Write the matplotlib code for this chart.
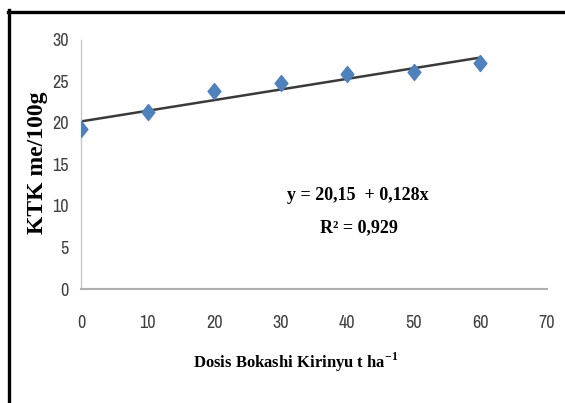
import matplotlib
matplotlib.use('Agg')
import matplotlib.pyplot as plt
import numpy as np
from matplotlib.lines import Line2D
from matplotlib import font_manager

# Data
dosis = [0, 10, 20, 30, 40, 50, 60]
ktk = [19.2, 21.3, 23.8, 24.8, 25.9, 26.1, 27.2]
intercept, slope = 20.15, 0.128
x_ticks = [0, 10, 20, 30, 40, 50, 60, 70]
y_ticks = [0, 5, 10, 15, 20, 25, 30]

names = sorted({f.name for f in font_manager.fontManager.ttflist})
cond = [n for n in names if 'Narrow' in n or 'Condensed' in n]
tick_font = cond[:1] + ['DejaVu Sans']
serif_font = ['Liberation Serif', 'DejaVu Serif']

fig = plt.figure(figsize=(5.65, 4.03), dpi=100)
fig.patch.set_facecolor('white')
ax = fig.add_axes([81 / 565, 1 - 289 / 403, (547 - 81) / 565, (289 - 39.5) / 403])

# trend line
xs = np.array([dosis[0], dosis[-1]])
ax.plot(xs, intercept + slope * xs, color='#3a3a3a', lw=1.8, zorder=2)

# data points (slightly tall diamond like Excel)
diamond = [(0, 1), (0.8, 0), (0, -1), (-0.8, 0), (0, 1)]
ax.plot(dosis, ktk, linestyle='none', marker=diamond, markersize=11.5,
        color='#4F81BD', markeredgecolor='#4F81BD', zorder=3)

ax.set_xlim(0, 70)
ax.set_ylim(0, 30)
ax.set_xticks(x_ticks)
ax.set_yticks(y_ticks)
ax.set_xticklabels([str(v) for v in x_ticks], family=tick_font, fontsize=13,
                   fontstretch='condensed', color='#404040')
ax.set_yticklabels([str(v) for v in y_ticks], family=tick_font, fontsize=13,
                   fontstretch='condensed', color='#404040')
ax.tick_params(axis='both', length=0)
ax.tick_params(axis='y', pad=9)
ax.tick_params(axis='x', pad=19)

for side in ['top', 'right']:
    ax.spines[side].set_visible(False)
ax.spines['left'].set_color('#c8c8c8')
ax.spines['bottom'].set_color('#b0b0b0')
ax.spines['left'].set_linewidth(1.0)
ax.spines['bottom'].set_linewidth(1.5)

# axis titles
fig.text(37 / 565, 1 - 163 / 403, 'KTK me/100g', rotation=90, ha='center', va='center',
         family=serif_font, fontweight='bold', fontsize=17)
fig.text(296 / 565, 1 - 362 / 403, 'Dosis Bokashi Kirinyu t ha$^{\\mathregular{-1}}$',
         ha='center', va='center', family=serif_font, fontweight='bold', fontsize=12)

# regression equation
fig.text(358 / 565, 1 - 195 / 403, 'y = 20,15  + 0,128x', ha='center', va='center',
         family=serif_font, fontweight='bold', fontsize=13)
fig.text(359 / 565, 1 - 228 / 403, 'R² = 0,929', ha='center', va='center',
         family=serif_font, fontweight='bold', fontsize=13)

# thick frame on left and top
fig.add_artist(Line2D([8.5 / 565, 8.5 / 565], [0, 1 - 10 / 403], color='black', lw=2.4,
                      transform=fig.transFigure))
fig.add_artist(Line2D([7.5 / 565, 1], [1 - 11.5 / 403, 1 - 11.5 / 403], color='black', lw=2.4,
                      transform=fig.transFigure))

fig.savefig('out.png', dpi=100)
